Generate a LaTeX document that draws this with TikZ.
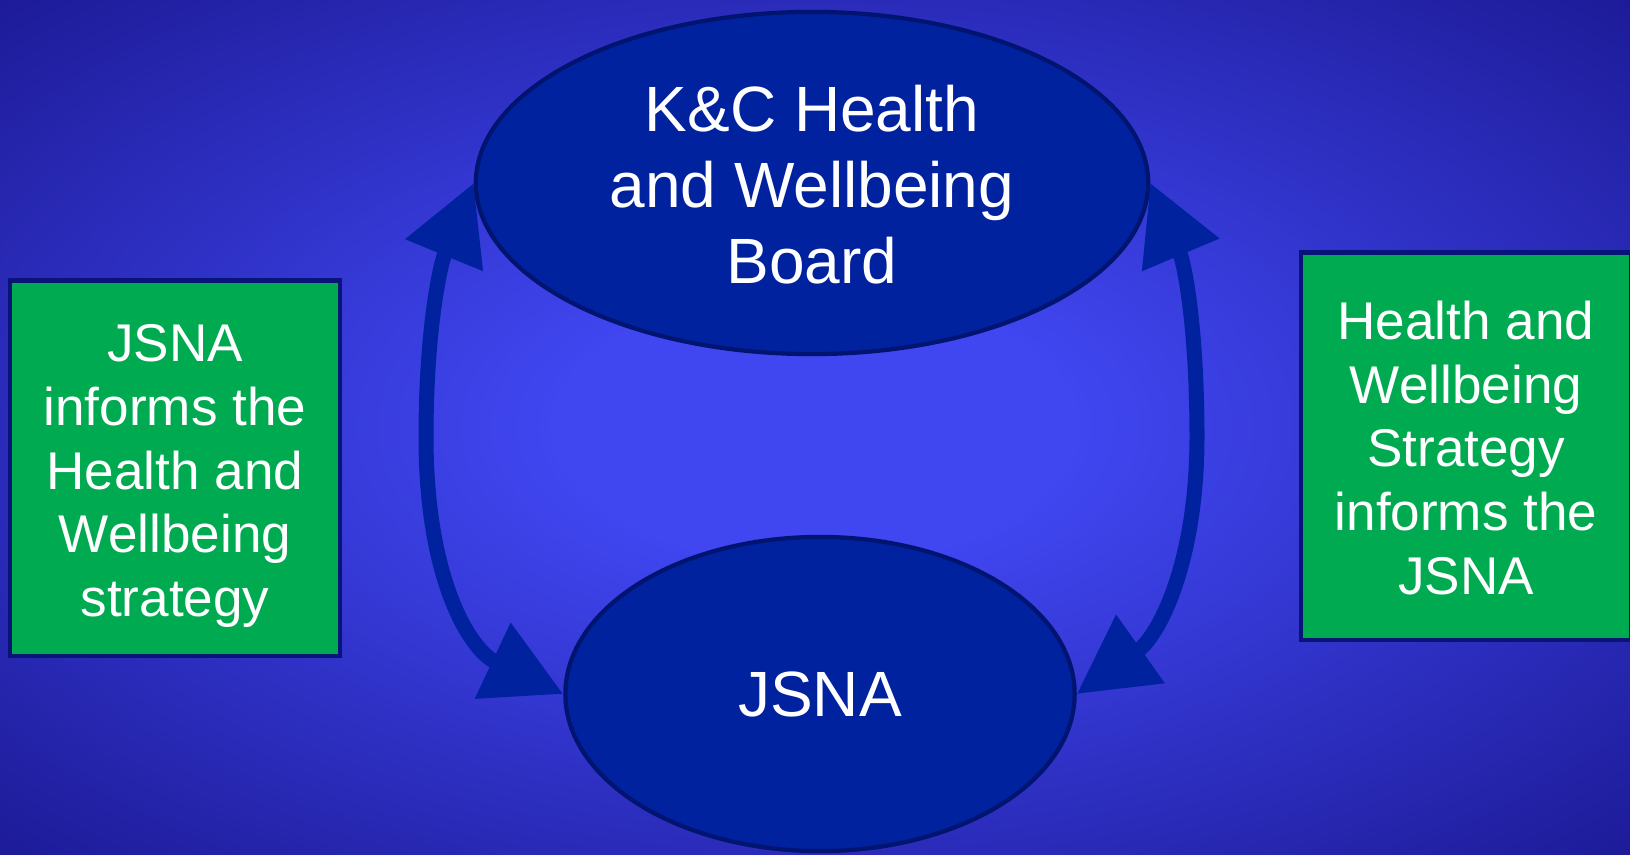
\documentclass[tikz,border=0pt]{standalone}
\usepackage{fontspec}
\setmainfont{Liberation Sans}
\usetikzlibrary{shapes.geometric,arrows.meta}

\definecolor{bgin}{RGB}{64,70,240}
\definecolor{bgout}{RGB}{28,26,150}
\definecolor{ovalfill}{RGB}{0,34,158}
\definecolor{ovalrim}{RGB}{0,20,112}
\definecolor{boxgreen}{RGB}{0,170,80}
\definecolor{boxrim}{RGB}{8,20,120}

% soft glow for the backdrop, brightest in the middle
\pgfdeclareradialshading{bgglow}{\pgfpoint{0bp}{0bp}}{%
  color(0bp)=(bgin); color(8bp)=(bgin); color(36bp)=(bgout); color(50bp)=(bgout)}

\pgfdeclarelayer{backdrop}
\pgfdeclarelayer{links}
\pgfsetlayers{backdrop,links,main}

\begin{document}
\begin{tikzpicture}[x=0.01cm,y=-0.01cm,
  oval/.style={ellipse, draw=ovalrim, line width=1.2pt, fill=ovalfill,
    inner sep=0pt, text=white, align=center,
    font=\fontsize{18.2}{21.6}\selectfont},
  ovaltext/.style={inner sep=0pt, text=white, align=center,
    font=\fontsize{18.2}{21.6}\selectfont},
  notebox/.style={rectangle, draw=boxrim, line width=1.2pt, fill=boxgreen,
    inner sep=0pt, minimum width=3.30cm},
  notetext/.style={inner sep=0pt, text=white, align=center,
    font=\fontsize{15.1}{18.1}\selectfont},
  linkarrow/.style={draw=ovalfill, line width=0.15cm,
    {Triangle[length=0.78cm,width=0.80cm]}-{Triangle[length=0.78cm,width=0.80cm]}}
]
\useasboundingbox (0,0) rectangle (1630,854);
\clip (0,0) rectangle (1630,854);

\begin{pgfonlayer}{backdrop}
  \shade[shading=bgglow] (0,0) rectangle (1630,854);
\end{pgfonlayer}

% the two bodies
\node[oval, minimum width=6.72cm, minimum height=3.42cm] (board) at (812,183) {};
\node[ovaltext] (boardtext) at (812,185) {K\&C Health\\and Wellbeing\\Board};
\node[oval, minimum width=5.09cm, minimum height=3.14cm] (jsna) at (820,694)
  {JSNA};

% side notes
\node[notebox, minimum height=3.75cm] (leftnote) at (175,468) {};
\node[notetext] (lefttext) at (175,476)
  {JSNA\\informs the\\Health and\\Wellbeing\\strategy};
\node[notebox, minimum height=3.87cm] (rightnote) at (1466,446) {};
\node[notetext] (righttext) at (1466,448)
  {Health and\\Wellbeing\\Strategy\\informs the\\JSNA};

% two-way links between board and JSNA
\begin{pgfonlayer}{links}
  \draw[linkarrow] (board.west) .. controls (440,265) and (426,330) .. (426,437)
    .. controls (426,580) and (470,650) .. (jsna.west);
  \draw[linkarrow] (board.east) .. controls (1185,265) and (1197,330) .. (1197,437)
    .. controls (1197,560) and (1160,635) .. (jsna.east);
\end{pgfonlayer}
\end{tikzpicture}
\end{document}
